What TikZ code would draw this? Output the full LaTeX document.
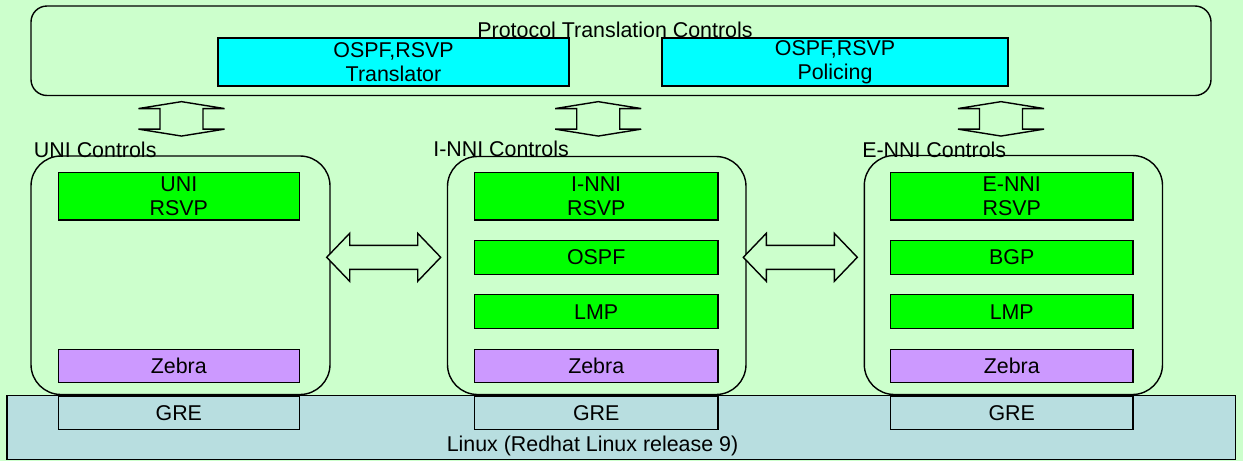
\documentclass[tikz,border=0pt]{standalone}
\usepackage{fontspec}
\setmainfont{Liberation Sans}
\definecolor{bgc}{HTML}{CCFFCC}
\definecolor{cyanc}{HTML}{00FFFF}
\definecolor{greenc}{HTML}{00FF00}
\definecolor{purplec}{HTML}{CC99FF}
\definecolor{linuxc}{HTML}{B8DEE0}
\tikzset{
  lbl/.style={font=\fontsize{21.4}{24.5}\selectfont, inner sep=0pt, outer sep=0pt},
  boxbase/.style={draw=black, line width=1.4pt, lbl, align=center},
  cybox/.style={boxbase, fill=cyanc},
  grbox/.style={boxbase, fill=greenc},
  pubox/.style={boxbase, fill=purplec},
  grebox/.style={boxbase},
  ctlbox/.style={draw=black, line width=1.4pt, rounded corners=30pt},
  blockarrow/.style={draw=black, line width=1.4pt, fill=bgc, line join=miter},
  udarr/.pic={\draw[blockarrow] (0,-17.2) -- (43,-10.3) -- (21.5,-10.3) -- (21.5,10.3) -- (43,10.3) -- (0,17.2) -- (-43,10.3) -- (-21.5,10.3) -- (-21.5,-10.3) -- (-43,-10.3) -- cycle;},
  lrarr/.pic={\draw[blockarrow] (-57,0) -- (-34,-24) -- (-34,-12) -- (34,-12) -- (34,-24) -- (57,0) -- (34,24) -- (34,12) -- (-34,12) -- (-34,24) -- cycle;}
}
\begin{document}
\begin{tikzpicture}[x=1pt,y=-1pt]
\fill[bgc] (0,0) rectangle (1243,461);
\useasboundingbox (0,0) rectangle (1243,461);
% top protocol translation box
\draw[line width=1.4pt, rounded corners=16pt] (31,6) rectangle (1211,95.5);
\node[name=trans, cybox, minimum width=351pt, minimum height=48pt] at (393.5,62) {OSPF,RSVP\\Translator};
\node[name=polic, cybox, minimum width=346pt, minimum height=48pt] at (835,62) {OSPF,RSVP\\Policing};
\node[name=ptc, lbl, anchor=base] at (615,37) {Protocol Translation Controls};
% linux base
\node[name=linux, draw=black, line width=1.4pt, fill=linuxc, inner sep=0pt, minimum width=1228.7pt, minimum height=64pt] at (621.35,427.3) {};
\node[name=linuxlbl, lbl, anchor=base] at (592.5,451) {Linux (Redhat Linux release 9)};
% control boxes
\draw[ctlbox] (31,156) rectangle (330,394.5);
\draw[ctlbox] (447.5,156.5) rectangle (746,394.5);
\draw[ctlbox] (864.3,155.5) rectangle (1162.5,394.5);
\node[name=unil, lbl, anchor=base west] at (34,157.3) {UNI Controls};
\node[name=innil, lbl, anchor=base west] at (433.3,156.7) {I-NNI Controls};
\node[name=ennil, lbl, anchor=base west] at (862.3,157.3) {E-NNI Controls};
% UNI column
\node[name=unirsvp, grbox, minimum width=241pt, minimum height=47.7pt] at (178.8,196.15) {UNI\\RSVP};
\node[name=unizebra, pubox, minimum width=241pt, minimum height=33.4pt] at (178.8,366) {Zebra};
\node[name=unigre, grebox, minimum width=241pt, minimum height=33.3pt] at (178.8,412.65) {GRE};
% I-NNI column
\node[name=innirsvp, grbox, minimum width=243.2pt, minimum height=47.7pt] at (596.2,196.15) {I-NNI\\RSVP};
\node[name=innospf, grbox, minimum width=243.2pt, minimum height=34pt] at (596.2,257.3) {OSPF};
\node[name=innilmp, grbox, minimum width=243.2pt, minimum height=34pt] at (596.2,311.7) {LMP};
\node[name=innizebra, pubox, minimum width=243.2pt, minimum height=33.4pt] at (596.2,366) {Zebra};
\node[name=innigre, grebox, minimum width=243.2pt, minimum height=33.3pt] at (596.2,412.65) {GRE};
% E-NNI column
\node[name=ennirsvp, grbox, minimum width=242.5pt, minimum height=47.7pt] at (1011.75,196.15) {E-NNI\\RSVP};
\node[name=ennbgp, grbox, minimum width=242.5pt, minimum height=34pt] at (1011.75,257.3) {BGP};
\node[name=ennilmp, grbox, minimum width=242.5pt, minimum height=34pt] at (1011.75,311.7) {LMP};
\node[name=ennizebra, pubox, minimum width=242.5pt, minimum height=33.4pt] at (1011.75,366) {Zebra};
\node[name=ennigre, grebox, minimum width=242.5pt, minimum height=33.3pt] at (1011.75,412.65) {GRE};
% block arrows
\pic at (181.5,118.85) {udarr};
\pic at (598.2,118.85) {udarr};
\pic at (1001,118.85) {udarr};
\pic at (383.7,257.3) {lrarr};
\pic at (800.3,257.3) {lrarr};
\end{tikzpicture}
\end{document}
